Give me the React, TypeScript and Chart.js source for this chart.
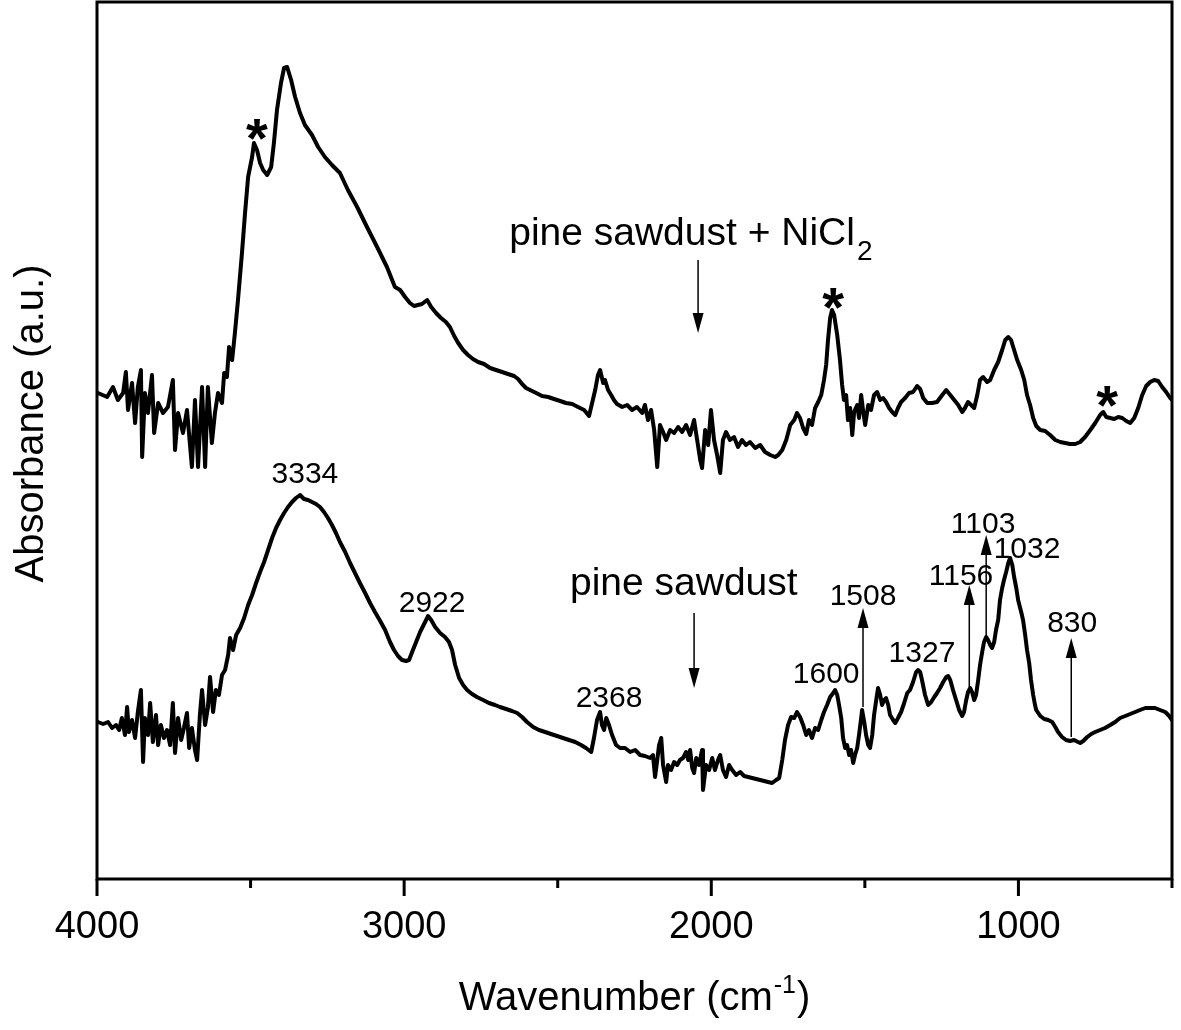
import React, { useEffect, useRef } from 'react';
import { Chart, registerables } from 'chart.js';

Chart.register(...registerables);

const FONT = '"Liberation Sans", Arial, Helvetica, sans-serif';

// ---- Spectrum: pine sawdust + NiCl2 (upper trace), wavenumber (cm-1) / absorbance (a.u.)
const wavenumberNiCl2 = [
  3997, 3967, 3948, 3932, 3915, 3906, 3899, 3886, 3876, 3867,
  3857, 3853, 3844, 3834, 3821, 3814, 3801, 3785, 3769, 3753,
  3746, 3736, 3720, 3707, 3691, 3681, 3671, 3658, 3648, 3639,
  3626, 3616, 3606, 3593, 3586, 3577, 3570, 3560, 3551, 3541,
  3528, 3518, 3508, 3495, 3489, 3479, 3469, 3459, 3446, 3433,
  3424, 3414, 3401, 3391, 3381, 3368, 3355, 3339, 3323, 3300,
  3280, 3258, 3235, 3209, 3183, 3153, 3121, 3088, 3056, 3030,
  3013, 2997, 2981, 2968, 2955, 2942, 2925, 2912, 2896, 2880,
  2864, 2851, 2837, 2824, 2808, 2792, 2776, 2759, 2740, 2720,
  2701, 2681, 2662, 2642, 2629, 2616, 2603, 2590, 2570, 2551,
  2531, 2512, 2492, 2473, 2453, 2434, 2414, 2398, 2388, 2378,
  2369, 2362, 2352, 2346, 2336, 2326, 2317, 2307, 2290, 2274,
  2258, 2242, 2225, 2216, 2206, 2196, 2186, 2176, 2167, 2157,
  2147, 2134, 2121, 2108, 2095, 2082, 2069, 2056, 2046, 2036,
  2030, 2020, 2010, 2001, 1991, 1981, 1971, 1962, 1952, 1939,
  1926, 1913, 1900, 1887, 1874, 1857, 1841, 1825, 1808, 1792,
  1782, 1769, 1756, 1743, 1730, 1721, 1711, 1701, 1691, 1682,
  1672, 1662, 1652, 1642, 1633, 1626, 1620, 1613, 1607, 1600,
  1590, 1581, 1574, 1568, 1561, 1555, 1548, 1541, 1535, 1525,
  1519, 1512, 1506, 1499, 1489, 1480, 1470, 1460, 1450, 1441,
  1431, 1421, 1411, 1401, 1392, 1382, 1369, 1356, 1343, 1330,
  1320, 1310, 1297, 1281, 1265, 1248, 1235, 1222, 1209, 1196,
  1183, 1174, 1164, 1154, 1144, 1134, 1125, 1115, 1102, 1092,
  1079, 1066, 1053, 1043, 1033, 1024, 1014, 1004, 991, 981,
  972, 962, 952, 942, 929, 913, 897, 880, 864, 848,
  832, 815, 799, 783, 766, 750, 734, 724, 714, 701,
  688, 675, 662, 649, 636, 623, 610, 597, 584, 571,
  558, 545, 532, 519, 506, 500,
];
const absorbanceNiCl2 = [
  487, 483, 493, 480, 487, 508, 470, 497, 457, 493,
  510, 423, 487, 467, 505, 447, 477, 467, 473, 500,
  430, 467, 447, 470, 413, 480, 413, 493, 413, 493,
  437, 467, 487, 477, 507, 503, 533, 520, 547, 580,
  627, 667, 703, 723, 737, 730, 717, 710, 705, 713,
  737, 770, 797, 812, 813, 800, 783, 767, 755, 745,
  733, 723, 715, 707, 690, 673, 653, 633, 613, 593,
  590, 583, 577, 574, 575, 576, 580, 573, 567, 562,
  558, 553, 544, 537, 530, 525, 521, 518, 516, 512,
  510, 508, 506, 504, 501, 496, 492, 490, 487, 484,
  483, 481, 479, 477, 476, 473, 470, 464, 477, 490,
  505, 510, 497, 500, 490, 485, 480, 476, 473, 475,
  470, 473, 467, 475, 460, 470, 450, 413, 455, 448,
  440, 450, 447, 453, 448, 455, 445, 460, 440, 420,
  412, 450, 435, 470, 440, 425, 407, 440, 448, 440,
  443, 433, 440, 435, 438, 432, 435, 428, 425, 423,
  425, 430, 440, 455, 460, 467, 462, 452, 446, 460,
  455, 472, 478, 485, 500, 515, 540, 562, 570, 565,
  545, 520, 495, 480, 485, 460, 472, 445, 468, 475,
  462, 485, 470, 455, 475, 470, 485, 488, 480, 482,
  478, 472, 468, 465, 472, 478, 482, 487, 488, 494,
  491, 482, 477, 477, 478, 485, 490, 485, 480, 475,
  468, 472, 478, 475, 472, 485, 500, 503, 498, 500,
  510, 518, 530, 540, 543, 540, 530, 520, 510, 500,
  485, 475, 462, 454, 450, 449, 445, 440, 438, 437,
  436, 436, 438, 443, 450, 457, 465, 468, 463, 462,
  461, 463, 462, 459, 457, 462, 472, 485, 494, 498,
  500, 499, 493, 488, 482, 480,
];

// ---- Spectrum: pine sawdust (lower trace)
const wavenumberSawdust = [
  3997, 3980, 3964, 3951, 3938, 3928, 3919, 3909, 3902, 3896,
  3886, 3876, 3867, 3857, 3850, 3844, 3834, 3827, 3818, 3808,
  3801, 3792, 3782, 3772, 3762, 3753, 3746, 3736, 3726, 3717,
  3707, 3700, 3691, 3681, 3674, 3665, 3658, 3648, 3639, 3632,
  3622, 3613, 3603, 3593, 3583, 3573, 3567, 3557, 3547, 3534,
  3521, 3508, 3495, 3482, 3469, 3456, 3443, 3430, 3417, 3404,
  3391, 3378, 3365, 3352, 3339, 3326, 3313, 3300, 3287, 3274,
  3261, 3248, 3235, 3222, 3209, 3192, 3176, 3160, 3144, 3127,
  3111, 3095, 3078, 3062, 3046, 3033, 3020, 3007, 2994, 2984,
  2974, 2961, 2948, 2935, 2922, 2912, 2899, 2883, 2867, 2854,
  2844, 2834, 2821, 2808, 2795, 2779, 2763, 2743, 2724, 2704,
  2688, 2668, 2649, 2632, 2616, 2600, 2580, 2561, 2541, 2522,
  2502, 2483, 2463, 2443, 2424, 2408, 2391, 2382, 2372, 2362,
  2356, 2349, 2342, 2333, 2323, 2310, 2297, 2281, 2264, 2248,
  2232, 2216, 2199, 2190, 2183, 2176, 2170, 2163, 2157, 2147,
  2141, 2131, 2121, 2111, 2102, 2092, 2082, 2075, 2069, 2062,
  2056, 2049, 2040, 2030, 2027, 2017, 2007, 1997, 1988, 1978,
  1971, 1962, 1952, 1942, 1932, 1919, 1906, 1893, 1880, 1867,
  1854, 1841, 1828, 1815, 1802, 1789, 1779, 1769, 1760, 1750,
  1740, 1730, 1721, 1711, 1701, 1691, 1682, 1672, 1662, 1652,
  1642, 1633, 1623, 1613, 1603, 1597, 1590, 1584, 1577, 1571,
  1564, 1558, 1551, 1545, 1538, 1532, 1525, 1519, 1512, 1509,
  1502, 1496, 1489, 1483, 1476, 1470, 1463, 1457, 1450, 1444,
  1437, 1431, 1424, 1418, 1408, 1401, 1392, 1382, 1372, 1362,
  1353, 1343, 1333, 1327, 1320, 1314, 1304, 1294, 1284, 1274,
  1265, 1255, 1245, 1235, 1229, 1222, 1213, 1203, 1193, 1183,
  1177, 1170, 1164, 1157, 1151, 1144, 1138, 1131, 1125, 1118,
  1112, 1105, 1099, 1092, 1086, 1079, 1073, 1066, 1060, 1053,
  1047, 1040, 1033, 1027, 1020, 1014, 1007, 1001, 991, 985,
  978, 972, 965, 959, 952, 946, 942, 929, 916, 903,
  890, 880, 871, 858, 845, 832, 819, 806, 799, 789,
  776, 763, 750, 734, 718, 701, 685, 669, 652, 636,
  620, 604, 587, 571, 555, 539, 522, 509, 500,
];
const absorbanceSawdust = [
  158, 156, 158, 152, 155, 150, 162, 145, 173, 148,
  160, 142, 168, 190, 118, 162, 145, 177, 138, 165,
  135, 155, 142, 150, 135, 177, 127, 162, 140, 152,
  167, 132, 152, 130, 120, 165, 190, 155, 172, 203,
  168, 190, 185, 205, 210, 225, 242, 230, 245, 252,
  262, 275, 285, 297, 308, 318, 330, 342, 352, 360,
  367, 373, 378, 382, 385, 381, 380, 378, 376, 373,
  368, 362, 355, 347, 338, 328, 317, 307, 297, 287,
  277, 268, 259, 250, 238, 230, 224, 220, 219, 220,
  228, 238, 248, 256, 264, 260, 253, 247, 243, 238,
  230, 215, 202, 195, 190, 186, 183, 180, 177, 175,
  173, 171, 169, 167, 163, 158, 153, 150, 148, 146,
  144, 142, 140, 138, 135, 132, 128, 142, 160, 168,
  155, 150, 162, 155, 145, 135, 132, 132, 128, 130,
  125, 124, 122, 125, 103, 120, 135, 142, 115, 98,
  115, 110, 118, 115, 120, 122, 128, 120, 130, 112,
  107, 122, 115, 130, 90, 115, 110, 122, 110, 120,
  125, 110, 103, 115, 110, 105, 108, 104, 103, 102,
  101, 100, 99, 98, 97, 100, 102, 120, 140, 155,
  163, 162, 168, 163, 155, 145, 150, 142, 152, 150,
  160, 168, 175, 183, 187, 190, 185, 175, 162, 142,
  132, 135, 125, 130, 117, 125, 132, 145, 162, 170,
  158, 145, 135, 132, 145, 165, 180, 192, 185, 175,
  180, 182, 175, 165, 160, 157, 162, 168, 177, 187,
  190, 198, 208, 210, 208, 200, 185, 175, 178, 183,
  187, 192, 198, 203, 204, 200, 190, 180, 170, 164,
  168, 180, 188, 192, 188, 180, 185, 200, 215, 228,
  238, 243, 240, 235, 232, 238, 250, 260, 280, 292,
  300, 308, 317, 322, 315, 303, 292, 280, 268, 260,
  245, 230, 217, 200, 185, 175, 170, 164, 161, 160,
  158, 153, 148, 143, 140, 139, 140, 138, 137, 139,
  143, 146, 148, 150, 152, 155, 158, 162, 164, 166,
  168, 170, 172, 172, 172, 170, 168, 164, 160,
];

// ---- Axis ticks
const xMajorTicks = [4000, 3000, 2000, 1000];
const xMinorTicks = [3500, 2500, 1500, 500];

// ---- Annotations (anchored in data units: wavenumber, absorbance)
const peakLabels = [
  { text: '3334', wn: 3323, v: 397 },
  { text: '2922', wn: 2909, v: 268 },
  { text: '2368', wn: 2333, v: 173 },
  { text: '1600', wn: 1626, v: 197 },
  { text: '1508', wn: 1506, v: 275 },
  { text: '1327', wn: 1314, v: 218 },
  { text: '1156', wn: 1187, v: 295 },
  { text: '1103', wn: 1115, v: 347 },
  { text: '1032', wn: 972, v: 322 },
  { text: '830', wn: 825, v: 248 },
];
const sampleLabels = [
  { text: 'pine sawdust + NiCl', sub: '2', wn: 2658, v: 635 },
  { text: 'pine sawdust', sub: '', wn: 2460, v: 285 },
];
const arrowMarks = [
  { wn: 2043, from: 620, to: 547 },
  { wn: 2056, from: 267, to: 192 },
  { wn: 1506, from: 173, to: 272 },
  { wn: 1160, from: 193, to: 295 },
  { wn: 1105, from: 243, to: 345 },
  { wn: 828, from: 143, to: 242 },
];
const asteriskMarks = [
  { wn: 3479, v: 751 },
  { wn: 1603, v: 582 },
  { wn: 711, v: 484 },
];

const decorPlugin = {
  id: 'decor',
  afterDatasetsDraw(chart: any) {
    const { ctx, chartArea: a, scales } = chart;
    const xs = scales.x;
    const ys = scales.y;
    ctx.save();
    ctx.fillStyle = '#000';
    ctx.strokeStyle = '#000';

    // frame
    ctx.lineWidth = 3;
    ctx.strokeRect(a.left, a.top, a.right - a.left, a.bottom - a.top);

    // tick marks
    ctx.beginPath();
    xMajorTicks.forEach((t) => {
      const px = xs.getPixelForValue(t);
      ctx.moveTo(px, a.bottom);
      ctx.lineTo(px, a.bottom + 17);
    });
    xMinorTicks.forEach((t) => {
      const px = xs.getPixelForValue(t);
      ctx.moveTo(px, a.bottom);
      ctx.lineTo(px, a.bottom + 9);
    });
    ctx.stroke();

    // tick labels
    ctx.font = `38px ${FONT}`;
    ctx.textAlign = 'center';
    ctx.textBaseline = 'alphabetic';
    xMajorTicks.forEach((t) => {
      ctx.fillText(String(t), xs.getPixelForValue(t), a.bottom + 59);
    });

    // x title with superscript
    const cx = (a.left + a.right) / 2;
    const base = a.bottom + 131;
    ctx.font = `40px ${FONT}`;
    const p1 = 'Wavenumber (cm';
    const p3 = ')';
    const w1 = ctx.measureText(p1).width;
    const w3 = ctx.measureText(p3).width;
    ctx.font = `25px ${FONT}`;
    const p2 = '-1';
    const w2 = ctx.measureText(p2).width;
    let sx = cx - (w1 + w2 + w3 + 2) / 2;
    ctx.textAlign = 'left';
    ctx.font = `40px ${FONT}`;
    ctx.fillText(p1, sx, base);
    sx += w1 + 1;
    ctx.font = `25px ${FONT}`;
    ctx.fillText(p2, sx, base - 17);
    sx += w2 + 1;
    ctx.font = `40px ${FONT}`;
    ctx.fillText(p3, sx, base);

    // y title
    ctx.save();
    ctx.translate(43, (a.top + a.bottom) / 2 - 17);
    ctx.rotate(-Math.PI / 2);
    ctx.textAlign = 'center';
    ctx.font = `40px ${FONT}`;
    ctx.fillText('Absorbance (a.u.)', 0, 0);
    ctx.restore();

    // peak labels
    ctx.font = `30px ${FONT}`;
    ctx.textAlign = 'center';
    peakLabels.forEach((l) => {
      ctx.fillText(l.text, xs.getPixelForValue(l.wn), ys.getPixelForValue(l.v));
    });

    // sample labels
    ctx.textAlign = 'left';
    sampleLabels.forEach((l) => {
      const px = xs.getPixelForValue(l.wn);
      const py = ys.getPixelForValue(l.v);
      ctx.font = `39px ${FONT}`;
      ctx.fillText(l.text, px, py);
      if (l.sub) {
        const w = ctx.measureText(l.text).width;
        ctx.font = `28px ${FONT}`;
        ctx.fillText(l.sub, px + w + 2, py + 15);
      }
    });

    // arrows
    ctx.lineWidth = 1.5;
    arrowMarks.forEach((m) => {
      const px = xs.getPixelForValue(m.wn);
      const y0 = ys.getPixelForValue(m.from);
      const y1 = ys.getPixelForValue(m.to);
      const dir = y1 > y0 ? 1 : -1;
      const headLen = 20;
      const headHalf = 5.5;
      ctx.beginPath();
      ctx.moveTo(px, y0);
      ctx.lineTo(px, y1 - dir * headLen);
      ctx.stroke();
      ctx.beginPath();
      ctx.moveTo(px, y1);
      ctx.lineTo(px - headHalf, y1 - dir * headLen);
      ctx.lineTo(px + headHalf, y1 - dir * headLen);
      ctx.closePath();
      ctx.fill();
    });

    // asterisks
    ctx.font = `bold 56px ${FONT}`;
    ctx.textAlign = 'center';
    asteriskMarks.forEach((s) => {
      const m = ctx.measureText('*');
      const px = xs.getPixelForValue(s.wn);
      const py = ys.getPixelForValue(s.v);
      const by = py + (m.actualBoundingBoxAscent - m.actualBoundingBoxDescent) / 2;
      ctx.fillText('*', px, by);
    });

    ctx.restore();
  },
};

export default function App() {
  const canvasRef = useRef<HTMLCanvasElement | null>(null);

  useEffect(() => {
    const canvas = canvasRef.current;
    if (!canvas) return;
    const lineStyle = {
      borderColor: '#000',
      borderWidth: 4,
      pointRadius: 0,
      tension: 0,
      fill: false,
      borderJoinStyle: 'round' as const,
      borderCapStyle: 'round' as const,
    };
    const chart = new Chart(canvas, {
      type: 'line',
      data: {
        datasets: [
          {
            label: 'pine sawdust + NiCl2',
            data: wavenumberNiCl2.map((x, i) => ({ x, y: absorbanceNiCl2[i] })),
            ...lineStyle,
          },
          {
            label: 'pine sawdust',
            data: wavenumberSawdust.map((x, i) => ({ x, y: absorbanceSawdust[i] })),
            ...lineStyle,
          },
        ],
      },
      options: {
        responsive: false,
        animation: false,
        devicePixelRatio: 1,
        events: [],
        layout: { padding: { left: 0, top: 2, right: 9, bottom: 0 } },
        plugins: {
          legend: { display: false },
          tooltip: { enabled: false },
        },
        scales: {
          x: {
            type: 'linear',
            min: 500,
            max: 4000,
            reverse: true,
            grid: { display: false },
            border: { display: false },
            ticks: { display: false },
            afterFit: (s: any) => {
              s.height = 151;
            },
          },
          y: {
            type: 'linear',
            min: 1,
            max: 878,
            grid: { display: false },
            border: { display: false },
            ticks: { display: false },
            afterFit: (s: any) => {
              s.width = 97;
            },
          },
        },
      },
      plugins: [decorPlugin],
    });
    return () => chart.destroy();
  }, []);

  return (
    <div style={{ position: 'absolute', left: 0, top: 0, width: 1181, height: 1030, background: '#fff' }}>
      <canvas ref={canvasRef} width={1181} height={1030} style={{ display: 'block' }} />
    </div>
  );
}
